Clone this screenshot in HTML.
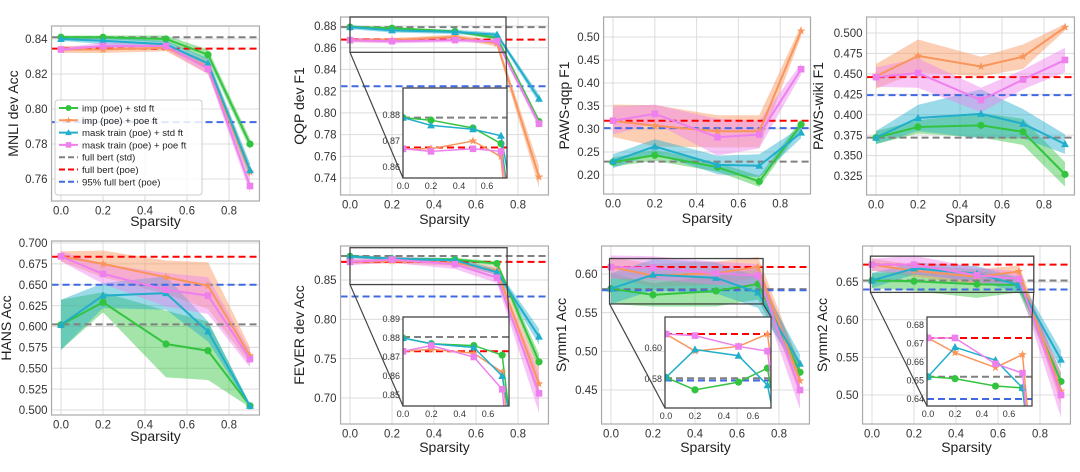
<!DOCTYPE html>
<html><head><meta charset="utf-8"><style>
html,body{margin:0;background:#fff;width:1080px;height:472px;overflow:hidden;}
svg{display:block;overflow:hidden;font-family:"Liberation Sans","DejaVu Sans",sans-serif;}
</style></head><body>
<svg id="fig" width="1080" height="472" viewBox="0 0 1080 472" xmlns="http://www.w3.org/2000/svg"></svg>
<script>
const sparsity=[0,0.2,0.5,0.7,0.9];
const seriesNames=["imp (poe) + std ft","imp (poe) + poe ft","mask train (poe) + std ft","mask train (poe) + poe ft"];
const refNames=["full bert (std)","full bert (poe)","95% full bert (poe)"];
// data per panel: green, orange, cyan, pink; spreads; refs (gray, red, blue)
const mnliVals=[[.841,.841,.840,.831,.780],[.834,.834,.835,.824,.764],[.840,.839,.837,.826,.765],[.834,.836,.836,.823,.756]];
const mnliSpread=[[.001,.001,.002,.003,.003],[.002,.002,.002,.004,.004],[.001,.002,.002,.003,.004],[.001,.002,.002,.003,.004]];
const mnliRefs=[.841,.8345,.7925];
const qqpVals=[[.879,.878,.875,.869,.792],[.867,.867,.870,.864,.741],[.879,.876,.8745,.872,.813],[.867,.866,.867,.866,.790]];
const qqpSpread=[[.001,.001,.001,.002,.003],[.002,.002,.002,.003,.01],[.002,.002,.002,.002,.004],[.002,.002,.002,.002,.004]];
const qqpRefs=[.879,.8675,.8245];
const pqqpVals=[[.228,.243,.217,.186,.310],[.318,.307,.295,.295,.513],[.230,.262,.222,.220,.292],[.318,.333,.282,.288,.430]];
const pqqpSpread=[[.01,.012,.01,.012,.01],[.035,.045,.035,.035,.012],[.015,.016,.02,.025,.012],[.03,.02,.04,.03,.012]];
const pqqpRefs=[.229,.318,.302];
const pwikiVals=[[.372,.385,.387,.379,.327],[.447,.472,.459,.471,.507],[.372,.396,.401,.389,.364],[.446,.451,.418,.443,.467]];
const pwikiSpread=[[.008,.008,.015,.016,.015],[.015,.02,.012,.015,.004],[.008,.016,.03,.018,.012],[.012,.018,.015,.012,.015]];
const pwikiRefs=[.372,.446,.424];
const hansVals=[[.602,.629,.579,.571,.505],[.684,.675,.659,.649,.565],[.602,.637,.640,.594,.505],[.684,.663,.644,.637,.561]];
const hansSpread=[[.03,.012,.04,.035,.002],[.006,.016,.02,.028,.01],[.03,.015,.02,.012,.002],[.006,.012,.02,.022,.01]];
const hansRefs=[.6025,.6835,.650];
const feverVals=[[.880,.877,.876,.871,.746],[.873,.874,.872,.862,.718],[.880,.877,.875,.860,.778],[.873,.876,.870,.853,.706]];
const feverSpread=[[.002,.002,.002,.003,.01],[.003,.003,.004,.005,.02],[.002,.002,.003,.004,.01],[.004,.004,.006,.007,.025]];
const feverRefs=[.8805,.873,.829];
const symm1Vals=[[.581,.573,.578,.587,.473],[.609,.598,.601,.609,.462],[.581,.599,.595,.576,.484],[.609,.608,.601,.598,.450]];
const symm1Spread=[[.02,.015,.02,.02,.012],[.013,.015,.015,.013,.02],[.02,.02,.02,.02,.012],[.015,.015,.015,.015,.025]];
const symm1Refs=[.5805,.609,.579];
const symm2Vals=[[.652,.651,.647,.646,.518],[.673,.665,.657,.664,.505],[.652,.668,.661,.646,.547],[.673,.673,.659,.654,.500]];
const symm2Spread=[[.01,.013,.018,.01,.012],[.008,.008,.01,.008,.018],[.01,.008,.01,.01,.012],[.008,.012,.01,.01,.03]];
const symm2Refs=[.652,.673,.640];

const colors=["#33c43f","#f9955c","#21aecb","#ee80ee"];
const refColors=["#808080","#ff0000","#4169e1"];
const svg=document.getElementById('fig');
const NS="http://www.w3.org/2000/svg";
let clipId=0;
function mk(tag,attrs,parent){const e=document.createElementNS(NS,tag);for(const k in attrs)e.setAttribute(k,attrs[k]);(parent||svg).appendChild(e);return e;}
function marker(g,type,x,y,c,s){
  let e;
  if(type===0){e=mk('circle',{cx:x,cy:y,r:s*0.6,fill:c},g);}
  else if(type===1){let p=[];for(let i=0;i<10;i++){const r=i%2?s*0.3:s*0.75;const a=-Math.PI/2+i*Math.PI/5;p.push((x+r*Math.cos(a)).toFixed(1)+','+(y+r*Math.sin(a)).toFixed(1));}e=mk('polygon',{points:p.join(' '),fill:c},g);}
  else if(type===2){e=mk('polygon',{points:`${x},${y-s*0.7} ${x-s*0.65},${y+s*0.5} ${x+s*0.65},${y+s*0.5}`,fill:c},g);}
  else {e=mk('rect',{x:x-s*0.55,y:y-s*0.55,width:s*1.1,height:s*1.1,fill:c},g);}
  
  
}
function axes(a){
  const ys=(a.yp2-a.yp1)/(a.yv2-a.yv1);
  return {X:v=>a.x0+v*a.xs, Y:v=>a.yp1+(v-a.yv1)*ys, inv:p=>a.yv1+(p-a.yp1)/ys};
}
function drawData(g,ax,vals,spread,refs,withBands,ms,lw,L,R){
  if(withBands){
    vals.forEach((s,i)=>{
      let up=s.map((v,j)=>ax.X(sparsity[j])+','+ax.Y(v+spread[i][j]));
      let dn=s.map((v,j)=>ax.X(sparsity[j])+','+ax.Y(v-spread[i][j])).reverse();
      const b=mk('polygon',{points:up.concat(dn).join(' '),fill:colors[i],'fill-opacity':0.45},g);
      
      
    });
  }
  refs.forEach((r,i)=>{
    const l=mk('line',{x1:L,x2:R,y1:ax.Y(r),y2:ax.Y(r),stroke:refColors[i],'stroke-width':2,'stroke-dasharray':'7,4'},g);
    
    
  });
  vals.forEach((s,i)=>{
    const pl=mk('polyline',{points:s.map((v,j)=>ax.X(sparsity[j])+','+ax.Y(v)).join(' '),fill:'none',stroke:colors[i],'stroke-width':lw},g);
    
    
    s.forEach((v,j)=>marker(g,i,ax.X(sparsity[j]),ax.Y(v),colors[i],ms));
  });
}
function frameAndTicks(a,ax,yticks,dec,xticks,fs,gridOn){
  const L=a.x0-0.045*a.xs,R=a.x0+0.945*a.xs;
  const g=mk('g',{});
  
  
  if(gridOn){
    xticks.forEach(t=>mk('line',{x1:ax.X(t),x2:ax.X(t),y1:a.T,y2:a.B,stroke:'#dcdcdc','stroke-width':1},g));
    yticks.forEach(t=>{const y=ax.Y(t);if(y>a.T&&y<a.B)mk('line',{x1:L,x2:R,y1:y,y2:y,stroke:'#dcdcdc','stroke-width':1},g);});
  }
  xticks.forEach(t=>{const tx=mk('text',{x:ax.X(t),y:a.B+fs+2,'font-size':fs,'text-anchor':'middle',fill:'#333'},g);tx.textContent=t.toFixed(1);});
  yticks.forEach(t=>{const y=ax.Y(t);if(y>=a.T-2&&y<=a.B+2){const tx=mk('text',{x:L-4,y:y+fs*0.36,'font-size':fs,'text-anchor':'end',fill:'#333'},g);tx.textContent=t.toFixed(dec);}});
}
function panel(p){
  const a=p.a, ax=axes(a);
  const L=a.x0-0.045*a.xs,R=a.x0+0.945*a.xs;
  frameAndTicks(a,ax,p.yticks,p.dec,[0,0.2,0.4,0.6,0.8],11.5,true);
  const cid='c'+(clipId++);
  const cp=mk('clipPath',{id:cid});mk('rect',{x:L,y:a.T,width:R-L,height:a.B-a.T},cp);
  const g=mk('g',{'clip-path':`url(#${cid})`});
  
  
  drawData(g,ax,p.vals,p.spread,p.refs,true,6,2,L,R);
  const fr=mk('rect',{x:L,y:a.T,width:R-L,height:a.B-a.T,fill:'none',stroke:'#aaa','stroke-width':1.2});
  
  
  const xl=mk('text',{x:(L+R)/2,y:p.xly,'font-size':14,'text-anchor':'middle',fill:'#222'});
  
  
  xl.textContent='Sparsity';
  const yl=mk('text',{x:p.ylx,y:(a.T+a.B)/2,'font-size':14,'text-anchor':'middle',fill:'#222',transform:`rotate(-90 ${p.ylx} ${(a.T+a.B)/2})`});
  
  
  yl.textContent=p.ylabel;
  if(p.inset){
    const ia=p.inset.a, iax=axes(ia);
    const xmin=(ia.L-ia.x0)/ia.xs, xmax=(ia.R-ia.x0)/ia.xs, ymin=iax.inv(ia.B), ymax=iax.inv(ia.T);
    const rx1=ax.X(xmin),rx2=ax.X(xmax),ry1=Math.max(ax.Y(ymax),a.T),ry2=ax.Y(ymin);
    const rr=mk('rect',{x:rx1,y:ry1,width:rx2-rx1,height:ry2-ry1,fill:'none',stroke:'#444','stroke-width':1.3});
    
    
    mk('line',{x1:rx1,y1:ry2,x2:ia.L,y2:ia.B,stroke:'#444','stroke-width':1.2});
    mk('line',{x1:rx2,y1:ry2,x2:ia.R,y2:ia.T,stroke:'#444','stroke-width':1.2});
    const bg=mk('rect',{x:ia.L,y:ia.T,width:ia.R-ia.L,height:ia.B-ia.T,fill:'#fff'});
    
    
    const ig=mk('g',{});
    
    
    [0,0.2,0.4,0.6].forEach(t=>{const tx=mk('text',{x:iax.X(t),y:ia.B+11,'font-size':9,'text-anchor':'middle',fill:'#333'},ig);tx.textContent=t.toFixed(1);});
    p.inset.yticks.forEach(t=>{const tx=mk('text',{x:ia.L-3,y:iax.Y(t)+3.2,'font-size':9,'text-anchor':'end',fill:'#333'},ig);tx.textContent=t.toFixed(p.inset.dec);});
    const icid='c'+(clipId++);
    const icp=mk('clipPath',{id:icid});mk('rect',{x:ia.L,y:ia.T,width:ia.R-ia.L,height:ia.B-ia.T},icp);
    const ing=mk('g',{'clip-path':`url(#${icid})`});
    
    
    drawData(ing,iax,p.vals,p.spread,p.refs,false,6,1.5,ia.L,ia.R);
    const ifr=mk('rect',{x:ia.L,y:ia.T,width:ia.R-ia.L,height:ia.B-ia.T,fill:'none',stroke:'#444','stroke-width':1.3});
    
    
  }
}
function rng(a,b,s){const r=[];for(let v=a;v<=b+1e-9;v+=s)r.push(+v.toFixed(4));return r;}

panel({name:'mnli',a:{T:26,B:201,x0:61,xs:210,yv1:.84,yp1:39,yv2:.76,yp2:179},yticks:rng(.76,.84,.02),dec:2,ylabel:'MNLI dev Acc',ylx:18,xly:226,vals:mnliVals,spread:mnliSpread,refs:mnliRefs});
panel({name:'qqp',a:{T:17,B:195,x0:350,xs:210,yv1:.88,yp1:26,yv2:.74,yp2:178},yticks:rng(.74,.88,.02),dec:2,ylabel:'QQP dev F1',ylx:304,xly:224,vals:qqpVals,spread:qqpSpread,refs:qqpRefs,
  inset:{a:{L:403,R:507,T:88,B:178,x0:403,xs:140,yv1:.88,yp1:115,yv2:.86,yp2:167},yticks:[.86,.87,.88],dec:2}});
panel({name:'paws-qqp',a:{T:17,B:194,x0:613,xs:209,yv1:.50,yp1:37,yv2:.20,yp2:175},yticks:rng(.20,.50,.05),dec:2,ylabel:'PAWS-qqp F1',ylx:569,xly:223,vals:pqqpVals,spread:pqqpSpread,refs:pqqpRefs});
panel({name:'paws-wiki',a:{T:17,B:195,x0:876,xs:210,yv1:.5,yp1:33,yv2:.325,yp2:176},yticks:rng(.325,.5,.025),dec:3,ylabel:'PAWS-wiki F1',ylx:823,xly:223,vals:pwikiVals,spread:pwikiSpread,refs:pwikiRefs});
panel({name:'hans',a:{T:241,B:415,x0:61,xs:210,yv1:.7,yp1:243,yv2:.5,yp2:410},yticks:rng(.5,.7,.025),dec:3,ylabel:'HANS Acc',ylx:11,xly:441,vals:hansVals,spread:hansSpread,refs:hansRefs});
panel({name:'fever',a:{T:246,B:424,x0:350,xs:210,yv1:.85,yp1:280,yv2:.70,yp2:398},yticks:rng(.70,.85,.05),dec:2,ylabel:'FEVER dev Acc',ylx:304,xly:452,vals:feverVals,spread:feverSpread,refs:feverRefs,
  inset:{a:{L:403,R:509,T:317,B:406,x0:403,xs:141.7,yv1:.89,yp1:319,yv2:.85,yp2:395},yticks:[.85,.86,.87,.88,.89],dec:2}});
panel({name:'symm1',a:{T:246,B:424,x0:611,xs:210,yv1:.60,yp1:274,yv2:.45,yp2:390},yticks:rng(.45,.60,.05),dec:2,ylabel:'Symm1 Acc',ylx:566,xly:452,vals:symm1Vals,spread:symm1Spread,refs:symm1Refs,
  inset:{a:{L:665,R:771,T:317,B:408,x0:666,xs:145,yv1:.60,yp1:348,yv2:.58,yp2:379},yticks:[.58,.60],dec:2}});
panel({name:'symm2',a:{T:246,B:424,x0:872,xs:210,yv1:.65,yp1:282,yv2:.50,yp2:395},yticks:rng(.50,.65,.05),dec:2,ylabel:'Symm2 Acc',ylx:827,xly:452,vals:symm2Vals,spread:symm2Spread,refs:symm2Refs,
  inset:{a:{L:927,R:1032,T:317,B:406,x0:928,xs:135,yv1:.68,yp1:325,yv2:.64,yp2:399},yticks:[.64,.65,.66,.67,.68],dec:2}});

const lg=mk('g',{});


mk('rect',{x:55,y:100,width:147,height:95,rx:3,fill:'#fff','fill-opacity':0.85,stroke:'#ccc'},lg);
const allNames=seriesNames.concat(refNames);
allNames.forEach((n,i)=>{
  const y=108+i*12.3;
  const e=mk('g',{},lg);
  
  
  if(i<4){mk('line',{x1:59,x2:78,y1:y,y2:y,stroke:colors[i],'stroke-width':2},e);marker(e,i,68.5,y,colors[i],5);}
  else mk('line',{x1:59,x2:78,y1:y,y2:y,stroke:refColors[i-4],'stroke-width':2,'stroke-dasharray':'6,3'},e);
  const t=mk('text',{x:82,y:y+3.5,'font-size':9.6,fill:'#222'},e);t.textContent=n;
});
</script>
</body></html>
